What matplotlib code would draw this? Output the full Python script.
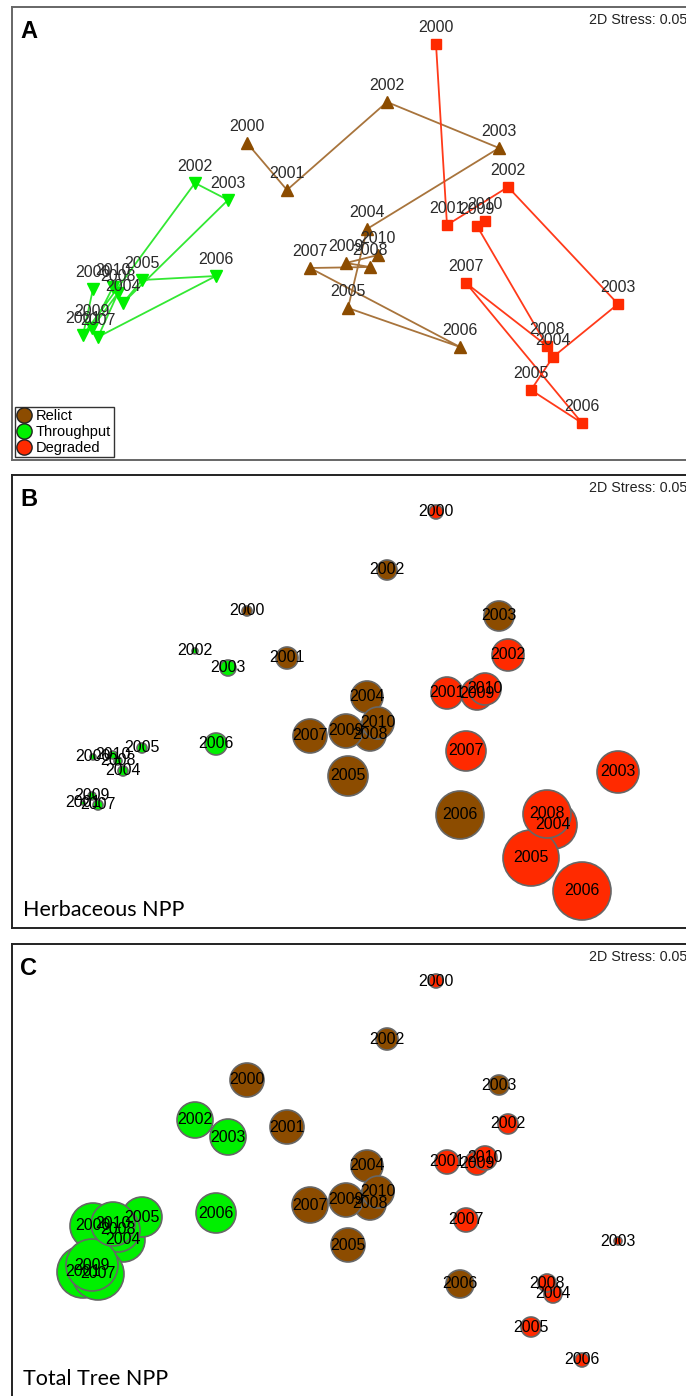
import matplotlib
matplotlib.use("Agg")
import matplotlib.pyplot as plt
from matplotlib.lines import Line2D

plt.rcParams['font.family'] = ['Liberation Sans', 'DejaVu Sans']

years = [str(y) for y in range(2000, 2011)]

# NMDS coordinates (same ordination in all three panels)
relict_x = [-1.02, -0.62, 0.38, 1.50, 0.18, -0.01, 1.11, -0.39, 0.21, -0.03, 0.29]
relict_y = [0.97, 0.50, 1.38, 0.92, 0.11, -0.68, -1.07, -0.28, -0.27, -0.23, -0.15]
through_x = [-2.56, -2.66, -1.54, -1.21, -2.26, -2.07, -1.33, -2.51, -2.31, -2.57, -2.36]
through_y = [-0.49, -0.95, 0.57, 0.40, -0.63, -0.40, -0.36, -0.97, -0.53, -0.88, -0.47]
degr_x = [0.87, 0.98, 1.59, 2.69, 2.04, 1.82, 2.33, 1.17, 1.98, 1.28, 1.36]
degr_y = [1.96, 0.15, 0.53, -0.64, -1.17, -1.50, -1.83, -0.43, -1.06, 0.14, 0.19]

# bubble sizes (relative NPP)
herb_relict = [5, 11, 10, 15, 16, 20, 24, 17, 16, 17, 16]
herb_through = [3, 2, 3, 8, 5, 5, 11, 5, 4, 4, 4]
herb_degr = [7, 16, 16, 21, 24, 28, 29, 20, 24, 16, 16]
tree_relict = [17, 17, 11, 10, 16, 17, 14, 18, 16, 17, 16]
tree_through = [23, 26, 18, 18, 22, 20, 20, 26, 22, 26, 22]
tree_degr = [7, 12, 10, 4, 9, 10, 7, 12, 9, 12, 12]

c_relict = '#8C4C00'
c_through = '#00F000'
c_degr = '#FF2A00'
l_relict = '#A8743C'
l_through = '#33E833'
l_degr = '#FF3A1A'

groups = [
    (relict_x, relict_y, c_relict, l_relict, '^', herb_relict, tree_relict),
    (through_x, through_y, c_through, l_through, 'v', herb_through, tree_through),
    (degr_x, degr_y, c_degr, l_degr, 's', herb_degr, tree_degr),
]

W, H = 686, 1396
fig = plt.figure(figsize=(W / 100, H / 100), dpi=100)

xlim = (-3.37, 3.51)
ylim = (-2.20, 2.33)
left_px, right_px, height_px = 12, 700, 453
tops = [7, 475, 944]


def make_ax(top, frame_col):
    ax = fig.add_axes([left_px / W, 1 - (top + height_px) / H,
                       (right_px - left_px) / W, height_px / H])
    ax.set_xlim(xlim)
    ax.set_ylim(ylim)
    ax.set_xticks([])
    ax.set_yticks([])
    for s in ax.spines.values():
        s.set_color(frame_col)
        s.set_linewidth(1.4)
    ax.text(589 / W, 1 - (top + 13) / H, '2D Stress: 0.05', transform=fig.transFigure,
            fontsize=10.3, color='#222222', va='center', ha='left')
    return ax


# Panel A: trajectories
ax = make_ax(tops[0], '#666666')
for gx, gy, col, lcol, mk, _, _ in groups:
    ax.plot(gx, gy, color=lcol, lw=1.3, zorder=2)
    ax.plot(gx, gy, ls='none', marker=mk, color=col, ms=8 if mk != 's' else 7, zorder=3)
    for x, y, yr in zip(gx, gy, years):
        ax.annotate(yr, (x, y), xytext=(0, 12), textcoords='offset points',
                    ha='center', va='center', fontsize=11.5, color='#2a2a2a', zorder=4)
ax.text(0.012, 0.945, 'A', transform=ax.transAxes, fontsize=17, fontweight='bold', va='center')
handles = [Line2D([], [], ls='none', marker='o', ms=11, mfc=c, mec='#222222', mew=1)
           for c in (c_relict, c_through, c_degr)]
leg = ax.legend(handles, ['Relict', 'Throughput', 'Degraded'], loc='lower left',
                fontsize=10.5, handletextpad=0.3, borderpad=0.15, labelspacing=0.12,
                handlelength=1.0, borderaxespad=0.2, fancybox=False, edgecolor='#333333',
                framealpha=1)
leg.get_frame().set_linewidth(1.0)


# Panels B and C: bubbles
def bubbles(ax, idx, letter, caption):
    for g in groups:
        gx, gy, col = g[0], g[1], g[2]
        sizes = g[idx]
        ax.scatter(gx, gy, s=[(2 * r * 0.72) ** 2 for r in sizes], color=col,
                   edgecolors='#666666', linewidths=1.2, zorder=2)
        for x, y, yr in zip(gx, gy, years):
            ax.text(x, y, yr, ha='center', va='center', fontsize=11.5, color='black', zorder=4)
    ax.text(0.012, 0.945, letter, transform=ax.transAxes, fontsize=17, fontweight='bold',
            va='center')
    ax.text(0.016, 0.04, caption, transform=ax.transAxes, fontsize=15.5, va='center',
            family=['Lato', 'DejaVu Sans'])


ax = make_ax(tops[1], '#222222')
bubbles(ax, 5, 'B', 'Herbaceous NPP')
ax = make_ax(tops[2], '#222222')
bubbles(ax, 6, 'C', 'Total Tree NPP')

fig.savefig('out.png', dpi=100)
